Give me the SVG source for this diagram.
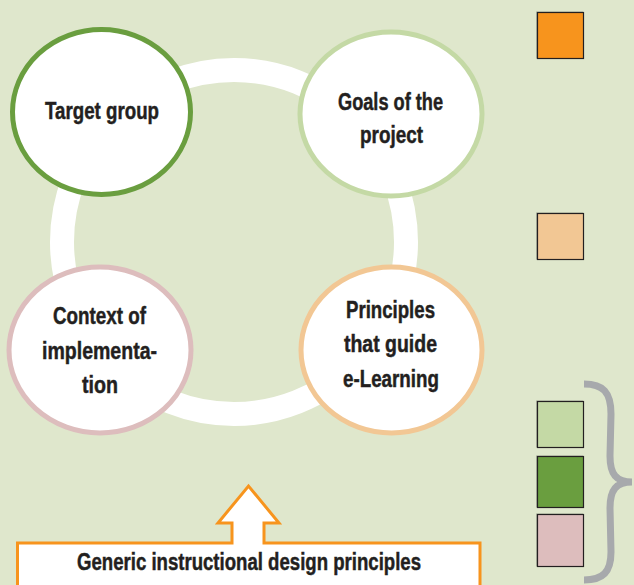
<svg xmlns="http://www.w3.org/2000/svg" width="634" height="585" viewBox="0 0 634 585">
  <style>
    .lbl { font-family: "Liberation Sans", Arial, sans-serif; font-weight: bold; font-size: 23px; fill: #231f20; stroke: #231f20; stroke-width: 0.45; text-anchor: middle; }
    .node { fill: #ffffff; stroke-width: 5; }
    .key { stroke: #231f20; stroke-width: 1.2; }
    .keyshadow { fill: #8a8f80; opacity: 0.6; }
  </style>

  <!-- page background -->
  <rect x="0" y="0" width="634" height="585" fill="#dfe7cc"/>

  <!-- cycle ring linking the four factors -->
  <g id="connectors">
    <circle cx="234" cy="242" r="172" fill="none" stroke="#ffffff" stroke-width="24"/>
  </g>

  <g id="node-target-group">
    <ellipse class="node" cx="101.5" cy="112" rx="89" ry="82.5" stroke="#6a9e3f"/>
    <text class="lbl" x="102" y="119" textLength="114" lengthAdjust="spacingAndGlyphs">Target group</text>
  </g>

  <g id="node-goals">
    <ellipse class="node" cx="391" cy="114" rx="91" ry="82" stroke="#c4d9a5"/>
    <text class="lbl" x="390.5" y="110" textLength="105" lengthAdjust="spacingAndGlyphs">Goals of the</text>
    <text class="lbl" x="391.5" y="143" textLength="63" lengthAdjust="spacingAndGlyphs">project</text>
  </g>

  <g id="node-context">
    <ellipse class="node" cx="100" cy="350" rx="91" ry="83" stroke="#ddbdbd"/>
    <text class="lbl" x="99.5" y="324" textLength="93" lengthAdjust="spacingAndGlyphs">Context of</text>
    <text class="lbl" x="99.5" y="359" textLength="115" lengthAdjust="spacingAndGlyphs">implementa-</text>
    <text class="lbl" x="100" y="393" textLength="36" lengthAdjust="spacingAndGlyphs">tion</text>
  </g>

  <g id="node-principles">
    <ellipse class="node" cx="391.5" cy="350" rx="90.5" ry="83" stroke="#f2c794"/>
    <text class="lbl" x="390.5" y="318" textLength="89" lengthAdjust="spacingAndGlyphs">Principles</text>
    <text class="lbl" x="390.5" y="352" textLength="93" lengthAdjust="spacingAndGlyphs">that guide</text>
    <text class="lbl" x="391" y="387" textLength="96" lengthAdjust="spacingAndGlyphs">e-Learning</text>
  </g>

  <!-- base layer with upward arrow -->
  <g id="node-generic">
    <path d="M17.5,592 L17.5,543 L232,543 L232,523 L218,523 L248.5,486 L279,523 L264,523 L264,543 L480,543 L480,592 Z" fill="#ffffff" stroke="#f7941d" stroke-width="3" stroke-linejoin="miter"/>
    <text class="lbl" x="249" y="570" font-size="20.5" textLength="344" lengthAdjust="spacingAndGlyphs">Generic instructional design principles</text>
  </g>

  <!-- colour key -->
  <g id="legend">
    <rect class="keyshadow" x="536" y="11.5" width="47" height="47"/>
    <rect class="key" x="537.5" y="12.5" width="46" height="46" fill="#f7941d"/>
    <rect class="keyshadow" x="536" y="212.5" width="47" height="47"/>
    <rect class="key" x="537.5" y="213.5" width="46" height="46" fill="#f2c794"/>
    <rect class="keyshadow" x="536" y="400.5" width="47" height="47"/>
    <rect class="key" x="537.5" y="401.5" width="46" height="46" fill="#c4d9a5"/>
    <rect class="keyshadow" x="536" y="455.5" width="47" height="52"/>
    <rect class="key" x="537.5" y="456.5" width="46" height="51" fill="#6a9e3f"/>
    <rect class="keyshadow" x="536" y="513.5" width="47" height="53"/>
    <rect class="key" x="537.5" y="514.5" width="46" height="52" fill="#ddbdbd"/>
    <path d="M584,384 C603,384 611,392 611,414 L610,456 C610,474 616,482 632,482 C616,482 610,490 610,508 L611,552 C611,572 603,580 584,580" fill="none" stroke="#a7a9ac" stroke-width="7"/>
  </g>
</svg>
